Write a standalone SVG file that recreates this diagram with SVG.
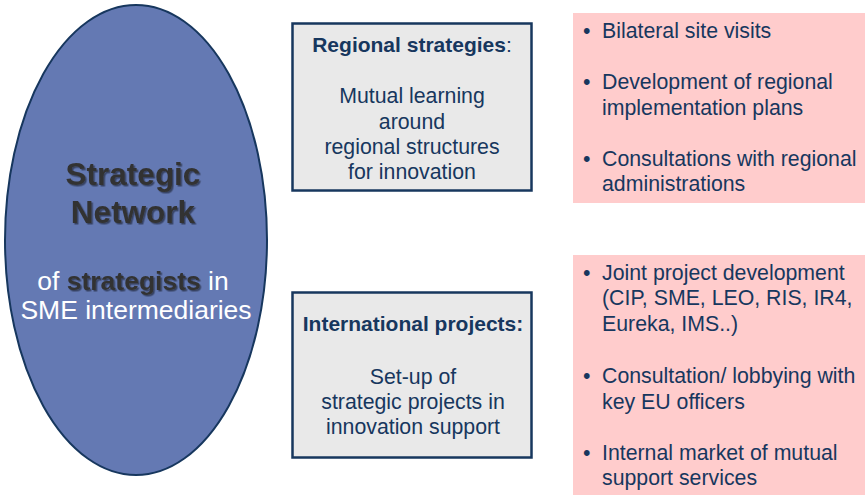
<svg xmlns="http://www.w3.org/2000/svg" width="865" height="495" viewBox="0 0 865 495">
<defs>
<filter id="sh" x="-10%" y="-10%" width="120%" height="130%">
<feDropShadow dx="1.5" dy="1.5" stdDeviation="0.6" flood-color="#000" flood-opacity="0.45"/>
</filter>
</defs>
<style>
text{font-family:"Liberation Sans",Arial,sans-serif}
.box{fill:#e9e9e9;stroke:#17375e;stroke-width:2.5}
.pink{fill:#ffcccc}
.bt{font-size:21.3px;fill:#17375e}
.bh{font-size:21px;font-weight:bold;fill:#17375e}
.li{font-size:21.3px;fill:#17375e}
.big{font-size:31.5px;font-weight:bold;fill:#333;filter:url(#sh)}
.wh{font-size:26.5px;fill:#fff}
.dk{font-weight:bold;fill:#333}
</style>
<g id="network">
<ellipse cx="136" cy="240" rx="131" ry="235" fill="#6479b3" stroke="#17375e" stroke-width="2"/>
<text class="big" x="133" y="185" text-anchor="middle">Strategic</text>
<text class="big" x="133" y="223" text-anchor="middle">Network</text>
<text class="wh" x="133" y="290" text-anchor="middle">of <tspan class="dk" filter="url(#sh)">strategists</tspan> in</text>
<text class="wh" x="136" y="319" text-anchor="middle">SME intermediaries</text>
</g>
<g id="regional">
<rect class="box" x="292.5" y="23.5" width="239" height="167"/>
<text class="bh" x="412" y="52" text-anchor="middle">Regional strategies<tspan font-weight="normal">:</tspan></text>
<text class="bt" x="412" y="103" text-anchor="middle">Mutual learning</text>
<text class="bt" x="412" y="129" text-anchor="middle">around</text>
<text class="bt" x="412" y="154" text-anchor="middle">regional structures</text>
<text class="bt" x="412" y="179" text-anchor="middle">for innovation</text>
</g>
<g id="international">
<rect class="box" x="292.5" y="292.5" width="239" height="165"/>
<text class="bh" x="413" y="331" text-anchor="middle">International projects:</text>
<text class="bt" x="413" y="384" text-anchor="middle">Set-up of</text>
<text class="bt" x="413" y="409" text-anchor="middle">strategic projects in</text>
<text class="bt" x="413" y="434" text-anchor="middle">innovation support</text>
</g>
<g id="list1">
<rect class="pink" x="573" y="13" width="292" height="190"/>
<text class="li" x="583" y="38">•</text>
<text class="li" x="602" y="38">Bilateral site visits</text>
<text class="li" x="583" y="89">•</text>
<text class="li" x="602" y="89">Development of regional</text>
<text class="li" x="602" y="115">implementation plans</text>
<text class="li" x="583" y="166">•</text>
<text class="li" x="602" y="166">Consultations with regional</text>
<text class="li" x="602" y="191">administrations</text>
</g>
<g id="list2">
<rect class="pink" x="573" y="255" width="292" height="240"/>
<text class="li" x="583" y="280">•</text>
<text class="li" x="602" y="280">Joint project development</text>
<text class="li" x="602" y="305">(CIP, SME, LEO, RIS, IR4,</text>
<text class="li" x="602" y="331">Eureka, IMS..)</text>
<text class="li" x="583" y="383">•</text>
<text class="li" x="602" y="383">Consultation/ lobbying with</text>
<text class="li" x="602" y="409">key EU officers</text>
<text class="li" x="583" y="460">•</text>
<text class="li" x="602" y="460">Internal market of mutual</text>
<text class="li" x="602" y="485">support services</text>
</g>
<g id="connectors"/>
</svg>
